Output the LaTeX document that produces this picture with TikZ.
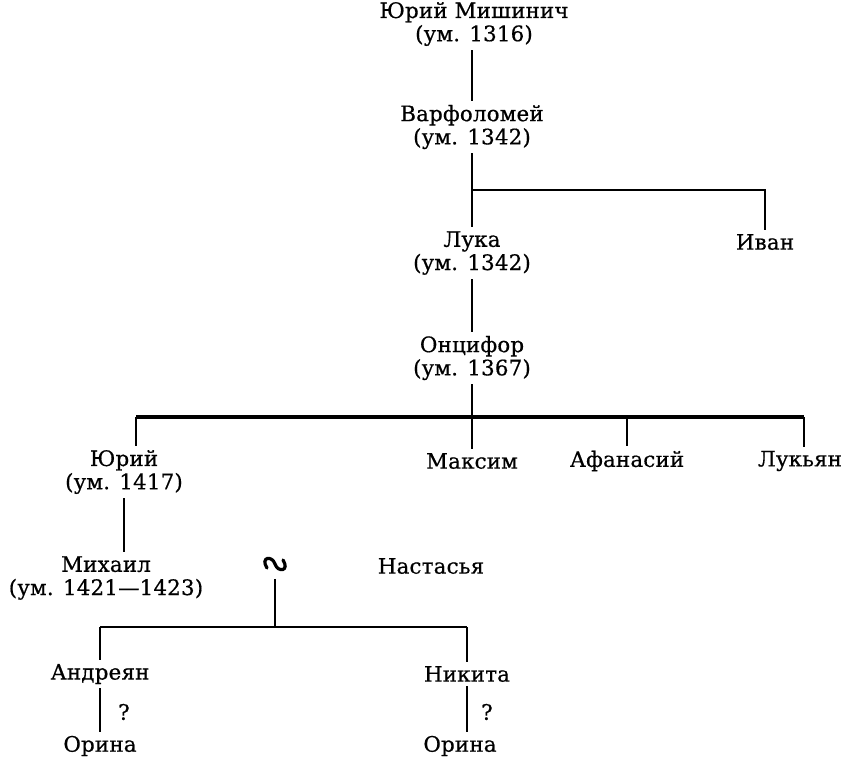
\documentclass[tikz,border=0pt]{standalone}
\usepackage{fontspec}
\setmainfont{DejaVu Serif}[LetterSpace=1,FakeBold=0.6]
\usetikzlibrary{positioning,calc}
\tikzset{
  person/.style={align=center,inner sep=3pt,font=\fontsize{16}{17.4}\selectfont},
  line/.style={draw=black,line width=1.3pt},
  bar/.style={draw=black,line width=2.6pt},
  marrsign/.style={draw=black,line width=2.4pt,line cap=round},
}
\begin{document}
\begin{tikzpicture}[x=0.75pt,y=-0.75pt]
\useasboundingbox (0,0) rectangle (843,758);
% persons
\node[person] (yurm) at (474,24) {Юрий Мишинич\\(ум. 1316)};
\node[person] (varf) at (472,127) {Варфоломей\\(ум. 1342)};
\node[person] (luka) at (472,253) {Лука\\(ум. 1342)};
\node[person] (ivan) at (765,242) {Иван};
\node[person] (onc) at (472,358) {Онцифор\\(ум. 1367)};
\node[person] (yurij) at (124,472) {Юрий\\(ум. 1417)};
\node[person] (maks) at (472,461) {Максим};
\node[person] (afan) at (627,461) {Афанасий};
\node[person] (luky) at (800,461) {Лукьян};
\node[person] (mikh) at (106,578) {Михаил\\(ум. 1421---1423)};
\node[inner sep=0pt,minimum width=18pt,minimum height=22pt] (marr) at (275,564) {};
\node[person] (nast) at (431,566) {Настасья};
\node[person] (andr) at (100,674) {Андреян};
\node[person] (nik) at (467,674) {Никита};
\node[person] (orina1) at (100,746) {Орина};
\node[person] (orina2) at (460,746) {Орина};
\node[person] (q1) at (124,712) {?};
\node[person] (q2) at (487,712) {?};
% marriage sign
\draw[marrsign] ($(marr)+(-8,4)$) .. controls ($(marr)+(-15,-7)$) and ($(marr)+(-3,-9)$) .. (marr.center)
  .. controls ($(marr)+(3,9)$) and ($(marr)+(15,7)$) .. ($(marr)+(8,-4)$);
% bars
\coordinate (bar1w) at (472,190);
\coordinate (bar1e) at (765,190);
\coordinate (bar2w) at (136,417);
\coordinate (bar2e) at (804,417);
\coordinate (bar3w) at (100,627);
\coordinate (bar3e) at (467,627);
% lines
\draw[line] (yurm.south -| varf) -- (varf);
\draw[line] (varf) -- (luka);
\draw[line] (bar1w) -- (bar1e) -- (ivan);
\draw[line] (luka) -- (onc);
\draw[line] (onc) -- (onc |- bar2w);
\draw[bar] (bar2w) -- (bar2e);
\draw[line] (bar2w) -- (bar2w |- yurij.north);
\draw[line] (maks.north |- bar2w) -- (maks);
\draw[line] (afan.north |- bar2w) -- (afan);
\draw[line] (bar2e) -- (bar2e |- luky.north);
\draw[line] (yurij.south) -- (yurij.south |- mikh.north);
\draw[line] (marr.south) -- (marr.south |- bar3w);
\draw[line] (bar3w) -- (bar3e);
\draw[line] (bar3w) -- (andr);
\draw[line] (bar3e) -- (nik);
\draw[line] (andr) -- (orina1);
\draw[line] (nik.south) -- (nik.south |- orina2.north);
\end{tikzpicture}
\end{document}
